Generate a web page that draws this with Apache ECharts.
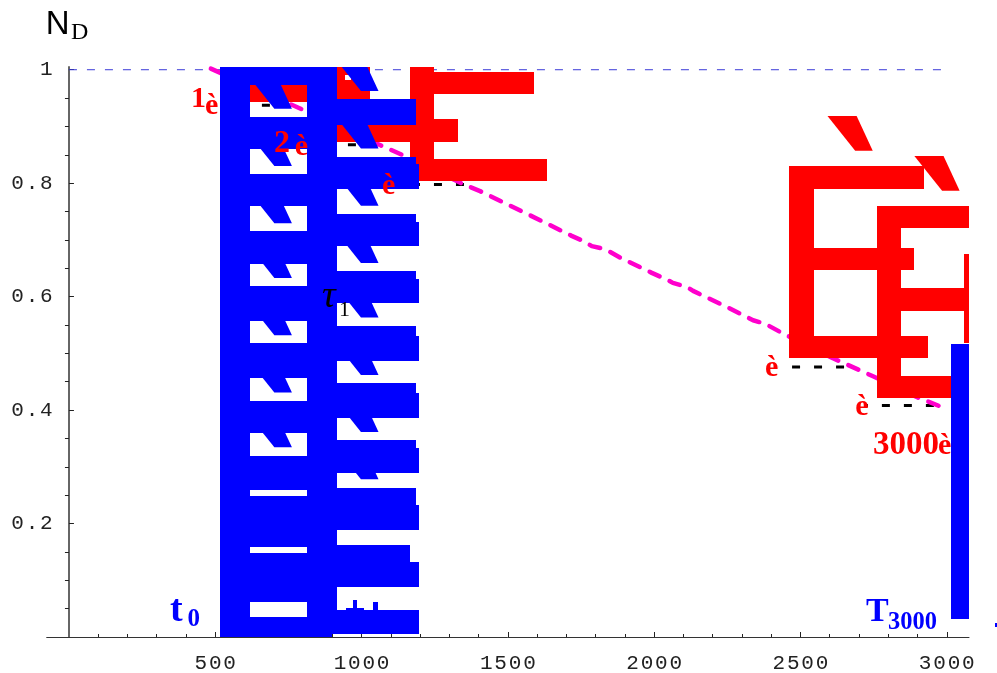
<!DOCTYPE html>
<html>
<head>
<meta charset="utf-8">
<title>N_D</title>
<script src="https://cdn.jsdelivr.net/npm/echarts@6/dist/echarts.min.js"></script>
<style>
  html, body { margin: 0; padding: 0; background: #fff; }
  #chart { width: 997px; height: 673px; }
</style>
</head>
<body>
<div id="chart"></div>
<script>
// axis ticks
const xMajorTicks = [500, 1000, 1500, 2000, 2500, 3000]
const xMinorTicks = [100, 200, 300, 400, 600, 700, 800, 900, 1100, 1200, 1300, 1400, 1600, 1700, 1800, 1900, 2100, 2200, 2300, 2400, 2600, 2700, 2800, 2900]
const yMajorTicks = [0.2, 0.4, 0.6, 0.8, 1]
const yMinorTicks = [0.05, 0.1, 0.15, 0.25, 0.3, 0.35, 0.45, 0.5, 0.55, 0.65, 0.7, 0.75, 0.85, 0.9, 0.95]

// N_D curve
const curveX = [485, 807, 1063, 1154, 1354, 1405, 1490, 1610, 1718, 1757, 1787, 1832, 1894, 1969, 1992, 2043, 2064, 2111, 2133, 2180, 2248, 2316, 2338, 2379, 2447, 2611, 2748, 2897, 2994]
const curveY = [1.002, 0.9277, 0.8672, 0.8465, 0.7966, 0.786, 0.7648, 0.7348, 0.7071, 0.6983, 0.689, 0.6837, 0.666, 0.6478, 0.6419, 0.6302, 0.6242, 0.6172, 0.6101, 0.5985, 0.5819, 0.5642, 0.5584, 0.5522, 0.5332, 0.4914, 0.4596, 0.4231, 0.4031]

// black dashed guides, drawn from the curve back to the label
const guideY = [0.9372, 0.8677, 0.7978, 0.476, 0.4079]
const guideFrom = [762, 1056, 1350, 2649, 2956]
const guideTo = [619, 918, 1080, 2423, 2727]

// top reference line
const limitX = [0, 2994]
const limitY = [1, 1]

// blocks as [x0, x1, y0, y1]
const redBlocks = [
  [619, 813.5, 0.9435, 0.9731],
  [917, 943, 0.9478, 1.0048],
  [943, 964, 0.9478, 0.9818],
  [943, 964, 0.9907, 1.0048],
  [964, 1029, 0.9478, 1.0048],
  [917, 1165.5, 0.873, 0.903],
  [1165.5, 1247.6, 0.8031, 1.0048],
  [1247.6, 1589, 0.9577, 0.9965],
  [1247.6, 1328.6, 0.873, 0.913],
  [1247.6, 1635, 0.8031, 0.8419],
  [2462, 2546, 0.4914, 0.8296],
  [2546, 2921, 0.7901, 0.8296],
  [2546, 2888, 0.6461, 0.6854],
  [2546, 2935, 0.4914, 0.5302],
  [2761, 2845, 0.4208, 0.759],
  [2845, 3076, 0.7202, 0.759],
  [2845, 3076, 0.5755, 0.6149],
  [2845, 3076, 0.4208, 0.4596],
  [3058, 3076, 0.5178, 0.6754]
]
const blueBlocks = [
  [516, 619, 0, 1.0048],
  [813.5, 917, 0.0056, 1.0048],
  [813.5, 899, 0, 0.0056],
  [619, 813.5, 0.9731, 1.0048],
  [619, 813.5, 0.8596, 0.9171],
  [619, 813.5, 0.759, 0.816],
  [619, 813.5, 0.6577, 0.7154],
  [619, 813.5, 0.5566, 0.6184],
  [619, 813.5, 0.4561, 0.5178],
  [619, 813.5, 0.3596, 0.4167],
  [619, 813.5, 0.259, 0.3197],
  [619, 813.5, 0.1579, 0.2491],
  [619, 813.5, 0.0614, 0.1486],
  [619, 813.5, 0, 0.0344],
  [917, 1185, 0.903, 0.9478],
  [917, 1185, 0.7901, 0.8465],
  [917, 1196, 0.7901, 0.8331],
  [917, 1185, 0.689, 0.746],
  [917, 1196, 0.689, 0.7318],
  [917, 1185, 0.5879, 0.6449],
  [917, 1196, 0.5879, 0.6307],
  [917, 1185, 0.4873, 0.5483],
  [917, 1196, 0.4873, 0.5302],
  [917, 1185, 0.386, 0.4472],
  [917, 1196, 0.386, 0.4296],
  [917, 1185, 0.2897, 0.3467],
  [917, 1196, 0.2897, 0.3326],
  [917, 1185, 0.1884, 0.2632],
  [917, 1196, 0.1884, 0.232],
  [917, 1165.5, 0.0879, 0.162],
  [917, 1196, 0.0879, 0.1314],
  [917, 1196, 0.0056, 0.048],
  [945.7, 1008, 0.048, 0.052],
  [969.6, 985, 0.048, 0.0644],
  [1040, 1057.6, 0.048, 0.0614],
  [3015, 3076, 0.0309, 0.5173]
]
const strayBlocks = [[3165, 3172, 0.0185, 0.024]]

// grave accents: lower left corner of each one, and the outline around it
const redAccents = [[2687, 0.8571], [2984, 0.7865]]
const blueAccents = [
  [702, 0.9312], [702, 0.8301], [702, 0.7295], [702, 0.633], [702, 0.5319], [702, 0.4308], [702, 0.3343],
  [998, 0.9624], [998, 0.8613], [998, 0.7601], [998, 0.6595], [998, 0.5632], [998, 0.4619], [998, 0.3613], [998, 0.2779]
]
const accentOutline = [[-94.6, 0.0612], [5, 0.0612], [60, 0], [0, 0]]

// text in the plot
const noteText = ['N', 'D', '1', 'è', '2', 'è', 'è', 'è', 'è', '3000', 'è', 't', '0', 'T', '3000', 'τ', '1']
const noteX = [-79, 7, 417, 465, 701, 772, 1070, 2379, 2687, 2748, 2970, 345, 405, 2724, 2799, 865, 923]
const noteY = [1.0789, 1.0647, 0.9483, 0.9358, 0.8689, 0.8635, 0.7947, 0.4736, 0.4047, 0.3379, 0.3359, 0.045, 0.03, 0.0441, 0.0256, 0.5997, 0.576]
const noteKind = ['axisName', 'axisSub', 'redDigit', 'redMark', 'redDigit2', 'redMark', 'redMark', 'redMark', 'redMark', 'redCount', 'redMark', 'blueT', 'blueSub', 'blueCap', 'blueCount', 'tau', 'tauSub']

const noteStyles = {
  axisName: { font: '33px "Liberation Sans"', fill: '#000' },
  axisSub: { font: '24px "Liberation Serif"', fill: '#000' },
  redDigit: { font: 'bold 30px "Liberation Serif"', fill: '#f00' },
  redDigit2: { font: 'bold 32px "Liberation Serif"', fill: '#f00' },
  redMark: { font: 'bold 30px "Liberation Serif"', fill: '#f00' },
  redCount: { font: 'bold 33px "Liberation Serif"', fill: '#f00' },
  blueT: { font: 'bold 38px "Liberation Serif"', fill: '#00f' },
  blueSub: { font: 'bold 25px "Liberation Serif"', fill: '#00f' },
  blueCap: { font: 'bold 34px "Liberation Serif"', fill: '#00f' },
  blueCount: { font: 'bold 24.5px "Liberation Serif"', fill: '#00f' },
  tau: { font: 'italic 38px "Liberation Serif"', fill: '#000' },
  tauSub: { font: '22px "Liberation Serif"', fill: '#000' }
}

// spaced out tick labels, like the mono font of the original
const spaced = (text) => String(text).split('').map((c) => `{d|${c}}`).join('{s| }')
const tickRich = {
  d: { fontFamily: 'Liberation Mono', fontSize: 21, color: '#222' },
  s: { fontFamily: 'Liberation Mono', fontSize: 3 }
}

// rounded to whole pixels so touching blocks leave no seam
const blockRender = (color) => (params, api) => {
  const a = api.coord([api.value(0), api.value(2)]).map(Math.round)
  const b = api.coord([api.value(1), api.value(3)]).map(Math.round)
  return {
    type: 'rect',
    shape: { x: a[0], y: b[1], width: b[0] - a[0], height: a[1] - b[1] },
    style: { fill: color }
  }
}

const accentRender = (color) => (params, api) => ({
  type: 'polygon',
  shape: {
    points: accentOutline.map((p) => api.coord([api.value(0) + p[0], api.value(1) + p[1]]))
  },
  style: { fill: color }
})

const shapeSeries = (data, renderItem, z, clip) => ({
  type: 'custom',
  data,
  renderItem,
  z,
  clip,
  silent: true,
  encode: { x: 0, y: 2 }
})

const guideSeries = guideY.map((y, i) => ({
  type: 'line',
  data: [[guideFrom[i], y], [guideTo[i], y]],
  showSymbol: false,
  silent: true,
  z: 1,
  lineStyle: { color: '#000', width: 3, type: [8, 14] }
}))

const option = {
  animation: false,
  backgroundColor: '#fff',
  grid: { left: 46.7, right: 28, top: 67, bottom: 36, outerBoundsMode: 'none' },
  xAxis: [
    {
      type: 'value',
      min: -76,
      max: 3076,
      splitLine: { show: false },
      axisLine: { onZero: true, lineStyle: { color: '#333', width: 1 } },
      axisTick: { inside: true, length: 5, customValues: xMajorTicks, lineStyle: { color: '#222' } },
      axisLabel: { margin: 16, customValues: xMajorTicks, formatter: spaced, rich: tickRich }
    },
    {
      type: 'value',
      min: -76,
      max: 3076,
      position: 'bottom',
      splitLine: { show: false },
      axisLine: { show: false },
      axisTick: { inside: true, length: 3, customValues: xMinorTicks, lineStyle: { color: '#222' } },
      axisLabel: { show: false }
    }
  ],
  yAxis: [
    {
      type: 'value',
      min: 0,
      max: 1.0048,
      splitLine: { show: false },
      axisLine: { show: true, onZero: true, lineStyle: { color: '#666', width: 2 } },
      axisTick: { show: true, inside: true, length: 5, customValues: yMajorTicks, lineStyle: { color: '#222' } },
      // labels hang off the grid edge, not the zero line, so they need a negative margin
      axisLabel: { margin: -6, customValues: yMajorTicks, formatter: spaced, rich: tickRich }
    },
    {
      type: 'value',
      min: 0,
      max: 1.0048,
      splitLine: { show: false },
      axisLine: { show: false, onZero: true },
      axisTick: { show: true, inside: true, length: 4, customValues: yMinorTicks, lineStyle: { color: '#222' } },
      axisLabel: { show: false }
    }
  ],
  series: [
    {
      type: 'line',
      data: limitX.map((x, i) => [x, limitY[i]]),
      showSymbol: false,
      silent: true,
      z: 1,
      lineStyle: { color: '#3a3ad8', width: 1, type: [8, 10] }
    },
    ...guideSeries,
    {
      type: 'line',
      data: curveX.map((x, i) => [x, curveY[i]]),
      showSymbol: false,
      silent: true,
      clip: false,
      z: 2,
      lineStyle: { color: '#ff00cc', width: 4.5, type: [11, 11], cap: 'round', join: 'round' }
    },
    shapeSeries(redBlocks, blockRender('#f00'), 3, true),
    shapeSeries(redAccents, accentRender('#f00'), 3, true),
    shapeSeries(blueBlocks, blockRender('#00f'), 4, true),
    shapeSeries(blueAccents, accentRender('#00f'), 4, true),
    shapeSeries(strayBlocks, blockRender('#00f'), 4, false),
    {
      type: 'custom',
      data: noteX.map((x, i) => [x, noteY[i]]),
      z: 5,
      clip: false,
      silent: true,
      encode: { x: 0, y: 1 },
      renderItem: (params, api) => {
        const p = api.coord([api.value(0), api.value(1)])
        const s = noteStyles[noteKind[params.dataIndex]]
        return {
          type: 'text',
          style: {
            text: noteText[params.dataIndex],
            x: p[0],
            y: p[1],
            font: s.font,
            fill: s.fill,
            textAlign: 'left',
            textVerticalAlign: 'middle'
          }
        }
      }
    }
  ]
}

const myEChart = echarts.init(document.getElementById('chart'))
myEChart.setOption(option)
</script>
</body>
</html>
